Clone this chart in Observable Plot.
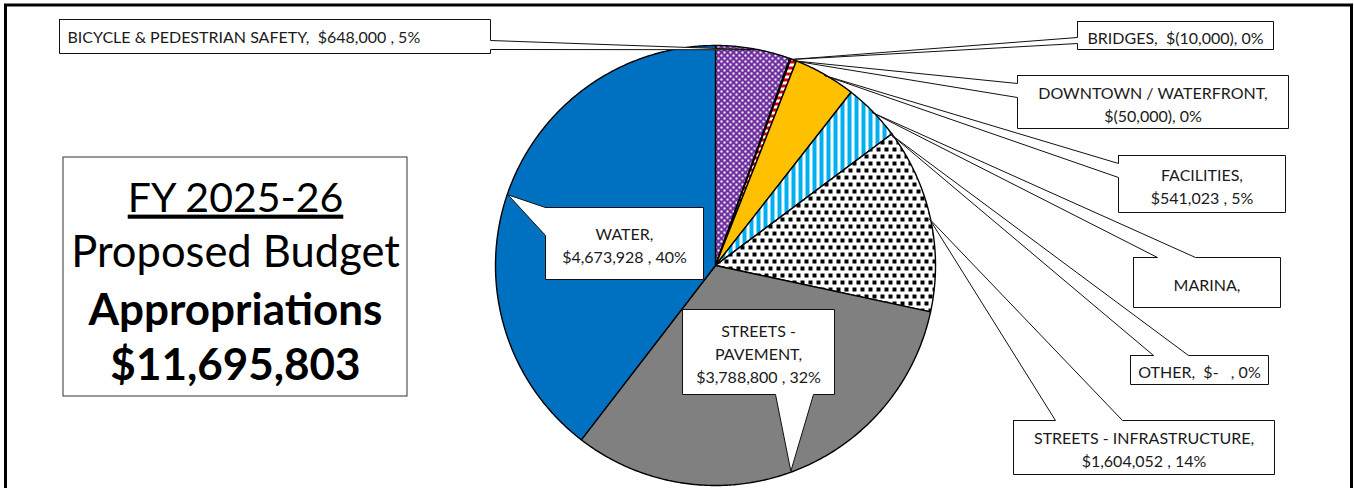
<!DOCTYPE html>
<html><head><meta charset="utf-8">
<script src="https://cdn.jsdelivr.net/npm/d3@7"></script>
<script src="https://cdn.jsdelivr.net/npm/@observablehq/plot@0.6"></script>
<style>
html,body{margin:0;padding:0;background:#fff;}
svg text{white-space:pre;}
</style></head><body><div id="chart"></div>
<script>
// ---- data ----
const categories = ["BICYCLE & PEDESTRIAN SAFETY", "BRIDGES", "DOWNTOWN / WATERFRONT", "FACILITIES", "MARINA", "OTHER", "STREETS - INFRASTRUCTURE", "STREETS - PAVEMENT", "WATER"];
const values = [648000, -10000, -50000, 541023, 500000, 0, 1604052, 3788800, 4673928];
const labelLines = [
  "BICYCLE & PEDESTRIAN SAFETY,  $648,000 , 5%",
  "BRIDGES,  $(10,000), 0%",
  "DOWNTOWN / WATERFRONT,\n$(50,000), 0%",
  "FACILITIES,\n$541,023 , 5%",
  "MARINA,",
  "OTHER,  $-   , 0%",
  "STREETS - INFRASTRUCTURE,\n$1,604,052 , 14%",
  "STREETS -\nPAVEMENT,\n$3,788,800 , 32%",
  "WATER,\n$4,673,928 , 40%"
];
const titleYear = "FY 2025-26";
const titleRegular = ["Proposed Budget"];
const titleBold = ["Appropriations"];

// ---- styles & layout ----
const fills = ["url(#p-bike)", "url(#p-red)", "url(#p-red)", "#FFC000", "url(#p-marina)", "#FFFFFF", "url(#p-infra)", "#808080", "#0070C0"];
const pie = {cx: 715, cy: 265, r: 220};
const callouts = [
  {x1: 59, y1: 19, x2: 490, y2: 53, side: "right", base: [40, 49], align: "start", tx: 67},
  {x1: 1077, y1: 21, x2: 1273, y2: 49, side: "left", base: [37, 43]},
  {x1: 1017, y1: 75, x2: 1288, y2: 128, side: "left", base: [83, 97]},
  {x1: 1118, y1: 155, x2: 1285, y2: 212, side: "left", base: [163, 177]},
  {x1: 1133, y1: 257, x2: 1280, y2: 307, side: "top", base: [1157, 1195]},
  {x1: 1130, y1: 355, x2: 1268, y2: 384, side: "top", base: [1153, 1188]},
  {x1: 1013, y1: 420, x2: 1274, y2: 474, side: "top", base: [1055, 1122]},
  {x1: 682, y1: 309, x2: 834, y2: 394, side: "bottom", base: [775, 813]},
  {x1: 545, y1: 207, x2: 703, y2: 279, side: "left", base: [207, 235]}
];
const titleBox = {x1: 63, y1: 157, x2: 407, y2: 396, cx: 235};
const titleY = [198, 253, 310, 365];
const FONT = "Lato, 'Open Sans', sans-serif";

const rows = categories.map((name, i) => ({name, value: values[i], fill: fills[i], label: labelLines[i], layout: callouts[i]}));
const total = d3.sum(values);
const totalText = "$" + d3.format(",")(total);

const arcs = d3.pie().value(d => Math.abs(d.value)).sort(null)(rows);
const polar = (a, r) => ({x: pie.cx + r * Math.sin(a), y: pie.cy - r * Math.cos(a)});

const slicePts = arcs.flatMap(a => {
  const n = Math.max(1, Math.ceil((a.endAngle - a.startAngle) / (Math.PI / 360)));
  const pts = [{x: pie.cx, y: pie.cy}];
  for (let k = 0; k <= n; k++) pts.push(polar(a.startAngle + (a.endAngle - a.startAngle) * k / n, pie.r));
  pts.push({x: pie.cx, y: pie.cy});
  return pts.map(p => ({...p, name: a.data.name, fill: a.data.fill}));
});

function calloutPts(c, tip) {
  const {x1, y1, x2, y2, side, base: [a, b]} = c;
  const t = [tip.x, tip.y];
  const pts = [[x1, y1]];
  if (side === "top") pts.push([a, y1], t, [b, y1]);
  pts.push([x2, y1]);
  if (side === "right") pts.push([x2, a], t, [x2, b]);
  pts.push([x2, y2]);
  if (side === "bottom") pts.push([b, y2], t, [a, y2]);
  pts.push([x1, y2]);
  if (side === "left") pts.push([x1, b], t, [x1, a]);
  pts.push([x1, y1]);
  return pts;
}
const calloutData = arcs.flatMap(a => {
  const tip = polar((a.startAngle + a.endAngle) / 2, pie.r - 1);
  return calloutPts(a.data.layout, tip).map(([x, y]) => ({x, y, name: a.data.name}));
});
const labelData = arcs.map(a => {
  const c = a.data.layout;
  return {text: a.data.label, x: c.tx ?? (c.x1 + c.x2) / 2, y: (c.y1 + c.y2) / 2 + 1, anchor: c.align ?? "middle"};
});

const chart = Plot.plot({
  width: 1354, height: 488, margin: 0,
  x: {domain: [0, 1354], range: [0, 1354], axis: null},
  y: {domain: [0, 488], range: [0, 488], axis: null},
  color: {type: "identity"},
  style: {background: "white"},
  marks: [
    Plot.rect([{x1: 5.5, x2: 1351.5, y1: 5, y2: 500}], {x1: "x1", x2: "x2", y1: "y1", y2: "y2", fill: "none", stroke: "black", strokeWidth: 3}),
    Plot.line(slicePts, {x: "x", y: "y", z: "name", fill: "fill", stroke: "black", strokeWidth: 1.4, strokeLinejoin: "round"}),
    Plot.line(calloutData, {x: "x", y: "y", z: "name", fill: "white", stroke: "#111", strokeWidth: 1}),
    Plot.text(labelData.filter(d => d.anchor === "middle"), {x: "x", y: "y", text: "text", textAnchor: "middle", lineAnchor: "middle", fontSize: 16, lineHeight: 1.44, fontFamily: FONT, fill: "#1a1a1a"}),
    Plot.text(labelData.filter(d => d.anchor === "start"), {x: "x", y: "y", text: "text", textAnchor: "start", lineAnchor: "middle", fontSize: 16, fontFamily: FONT, fill: "#1a1a1a"}),
    Plot.rect([titleBox], {x1: "x1", x2: "x2", y1: "y1", y2: "y2", fill: "white", stroke: "#333", strokeWidth: 1}),
    Plot.text([{t: titleYear, y: titleY[0]}], {x: () => titleBox.cx, y: "y", text: "t", textAnchor: "middle", fontSize: 41, fontFamily: FONT, fill: "black"}),
    Plot.text(titleRegular.map((t, i) => ({t, y: titleY[i + 1]})), {x: () => titleBox.cx, y: "y", text: "t", textAnchor: "middle", fontSize: 43.5, fontFamily: FONT, fill: "black"}),
    Plot.text([...titleBold, totalText].map((t, i) => ({t, y: titleY[i + 2]})), {x: () => titleBox.cx, y: "y", text: "t", textAnchor: "middle", fontSize: 44, fontWeight: "bold", fontFamily: FONT, fill: "black"})
  ]
});

// patterns
const defs = d3.select(chart).insert("defs", ":first-child");
const bike = defs.append("pattern").attr("id", "p-bike").attr("patternUnits", "userSpaceOnUse").attr("width", 6).attr("height", 6);
bike.append("rect").attr("width", 6).attr("height", 6).attr("fill", "#7030A0");
bike.append("rect").attr("width", 2).attr("height", 2).attr("fill", "white");
bike.append("rect").attr("x", 3).attr("y", 3).attr("width", 2).attr("height", 2).attr("fill", "white");
const red = defs.append("pattern").attr("id", "p-red").attr("patternUnits", "userSpaceOnUse").attr("width", 6).attr("height", 6);
red.append("rect").attr("width", 6).attr("height", 6).attr("fill", "white");
red.append("rect").attr("width", 6).attr("height", 3).attr("fill", "#E00000");
const marina = defs.append("pattern").attr("id", "p-marina").attr("patternUnits", "userSpaceOnUse").attr("width", 7).attr("height", 7);
marina.append("rect").attr("width", 7).attr("height", 7).attr("fill", "white");
marina.append("rect").attr("width", 4).attr("height", 7).attr("fill", "#00B0F0");
const infra = defs.append("pattern").attr("id", "p-infra").attr("patternUnits", "userSpaceOnUse").attr("width", 8).attr("height", 14);
infra.append("rect").attr("width", 8).attr("height", 14).attr("fill", "white");
infra.append("rect").attr("width", 4).attr("height", 4).attr("fill", "black");
infra.append("rect").attr("x", 4).attr("y", 7).attr("width", 4).attr("height", 4).attr("fill", "black");

d3.select(chart).selectAll("text").filter(function() { return this.textContent === titleYear; }).style("text-decoration", "underline");

document.getElementById("chart").appendChild(chart);
</script></body></html>
